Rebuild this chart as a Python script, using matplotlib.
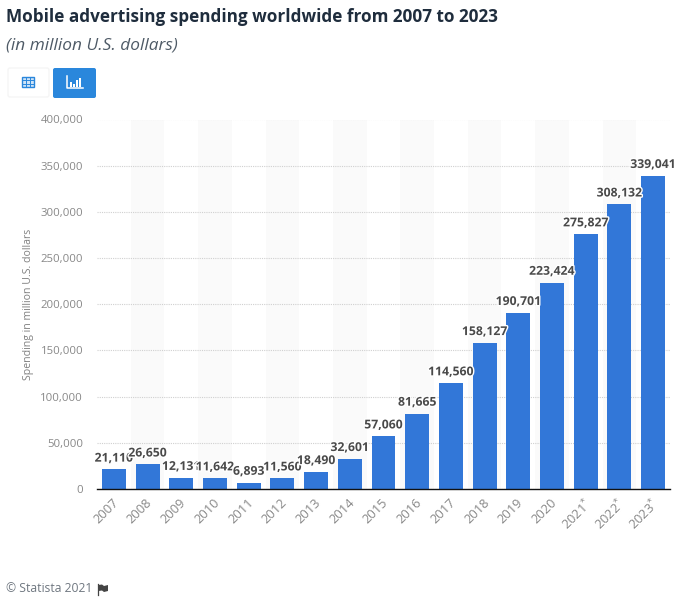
import matplotlib
matplotlib.use("Agg")
import matplotlib.pyplot as plt
import matplotlib.patheffects as pe
from matplotlib.patches import FancyBboxPatch, Rectangle, Polygon
from matplotlib.transforms import ScaledTranslation

years = ["2007", "2008", "2009", "2010", "2011", "2012", "2013", "2014", "2015",
         "2016", "2017", "2018", "2019", "2020", "2021*", "2022*", "2023*"]
spending = [21110, 26650, 12131, 11642, 6893, 11560, 18490, 32601, 57060,
            81665, 114560, 158127, 190701, 223424, 275827, 308132, 339041]
y_ticks = [0, 50000, 100000, 150000, 200000, 250000, 300000, 350000, 400000]

W, H = 685, 602
plt.rcParams["font.family"] = ["Open Sans", "DejaVu Sans"]
plt.rcParams["mathtext.default"] = "regular"

fig = plt.figure(figsize=(W / 100, H / 100), dpi=100, facecolor="white")

# page furniture, in pixel coordinates
page = fig.add_axes([0, 0, 1, 1])
page.set_xlim(0, W)
page.set_ylim(H, 0)
page.axis("off")

page.text(6, 17, "Mobile advertising spending worldwide from 2007 to 2023", fontsize=12.35,
          fontweight="bold", color="#1f2d3d", va="center")
page.text(6, 45, "(in million U.S. dollars)", fontsize=12.4, style="italic",
          color="#4e5a66", va="center")

# table / chart buttons
page.add_patch(FancyBboxPatch((8, 68), 41, 29, boxstyle="round,pad=0,rounding_size=2",
                              fc="white", ec="#f5f5f5", lw=1))
page.add_patch(FancyBboxPatch((53, 68), 43, 30, boxstyle="round,pad=0,rounding_size=2",
                              fc="#2a87dc", ec="none"))
page.add_patch(Rectangle((22.5, 77), 12, 10, fc="#cfe4f7", ec="#2a87dc", lw=1))
for gx in (26.5, 30.5):
    page.plot([gx, gx], [77, 87], color="#2a87dc", lw=0.7)
for gy in (80.3, 83.6):
    page.plot([22.5, 34.5], [gy, gy], color="#2a87dc", lw=0.7)
page.plot([67, 67, 83], [76, 88, 88], color="white", lw=1.1)
for bx, top in zip((70, 73, 76, 79), (82, 84, 80, 78)):
    page.add_patch(Rectangle((bx, top), 2.2, 87 - top, fc="white", ec="none"))

# footer
page.text(6, 589, "© Statista 2021", fontsize=8.7, color="#6f7780", va="center")
page.plot([98, 98], [584, 595], color="#444444", lw=0.9)
page.add_patch(Polygon([(98.5, 585), (102, 584.5), (104, 586), (108, 585), (108, 591),
                       (104, 592), (102, 590.5), (98.5, 591)], fc="#444444", ec="none"))

# main chart
left, right, top, bottom = 97, 670, 119.5, 489
ax = fig.add_axes([left / W, 1 - bottom / H, (right - left) / W, (bottom - top) / H])
ax.set_facecolor("none")
positions = list(range(len(years)))

for i in positions:
    if i % 2 == 1:
        ax.axvspan(i - 0.5, i + 0.5, color="#fafafa", lw=0, zorder=0)

ax.bar(positions, spending, width=0.71, color="#3277d8", zorder=3)

for i, v in zip(positions, spending):
    ax.annotate(f"{v:,}", (i, v), xytext=(0, 3.5), textcoords="offset points", ha="center",
                va="bottom", fontsize=8.8, fontweight="bold", color="#4a4a4a", zorder=4,
                path_effects=[pe.withStroke(linewidth=2, foreground="white")])

ax.set_xlim(-0.5, len(years) - 0.5)
ax.set_ylim(0, 400000)
ax.set_yticks(y_ticks)
ax.set_yticklabels([f"{t:,}" for t in y_ticks], fontsize=8.2, color="#888888")
ax.set_xticks(positions)
ax.set_xticklabels([y.replace("*", "$^{*}$") for y in years], rotation=45, ha="right",
                   rotation_mode="anchor", fontsize=9.3, color="#888888")
ax.tick_params(axis="both", length=0)
ax.tick_params(axis="x", pad=5)
ax.tick_params(axis="y", pad=10)
for label in ax.get_xticklabels():
    label.set_transform(label.get_transform() + ScaledTranslation(-2 / 100, 0, fig.dpi_scale_trans))
ax.grid(axis="y", color="#d0d0d0", lw=0.8, linestyle=(0, (1, 1)), zorder=1)
ax.set_axisbelow(True)
for side in ("top", "right", "left"):
    ax.spines[side].set_visible(False)
ax.spines["bottom"].set_color("#111111")
ax.spines["bottom"].set_linewidth(1)
ax.spines["bottom"].set_zorder(5)
ax.set_ylabel("Spending in million U.S. dollars", fontsize=7.6, color="#808080")
ax.yaxis.set_label_coords((34 - left) / (right - left), 0.5)

fig.savefig("out.png", dpi=100)
